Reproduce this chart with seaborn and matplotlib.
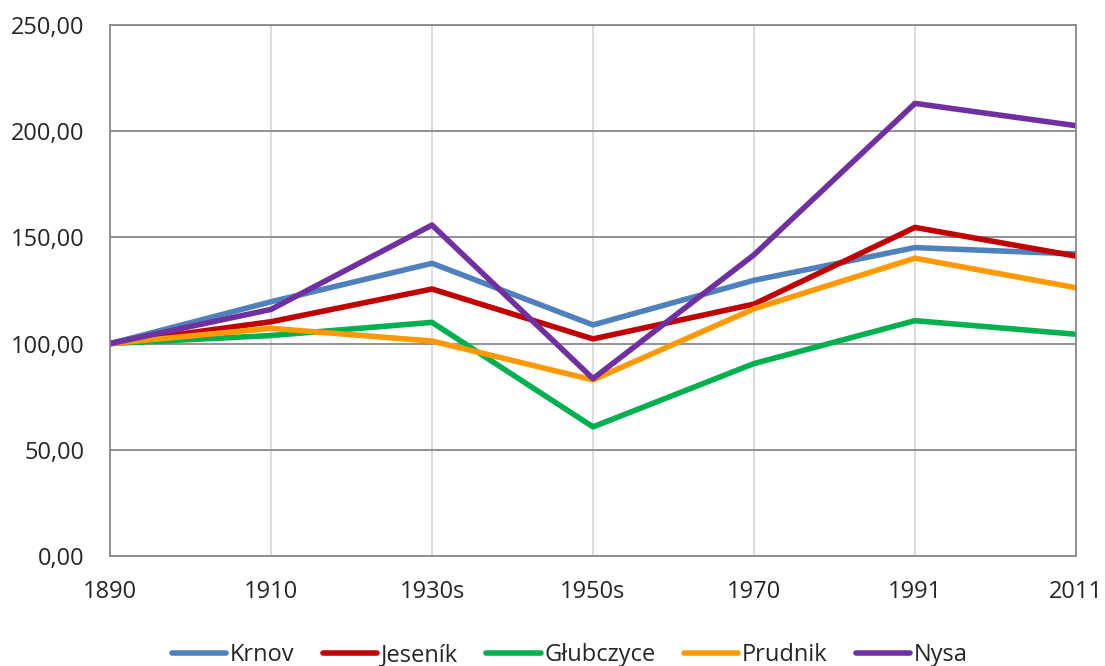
import pandas as pd
import matplotlib
matplotlib.use("Agg")
import matplotlib.pyplot as plt
import seaborn as sns
from matplotlib.ticker import FuncFormatter

# years / periods on the x axis
years = ["1890", "1910", "1930s", "1950s", "1970", "1991", "2011"]

# index values (1890 = 100)
krnov = [100, 119.7, 137.8, 108.8, 129.8, 145.2, 142.2]
jesenik = [100, 110.3, 125.7, 102.2, 118.6, 154.7, 141.2]
glubczyce = [100, 103.8, 110.0, 60.8, 90.6, 110.8, 104.4]
prudnik = [100, 107.2, 101.2, 82.9, 116.4, 140.2, 126.3]
nysa = [100, 116.1, 155.8, 83.5, 141.8, 213.1, 202.6]

series_names = ["Krnov", "Jeseník", "Głubczyce", "Prudnik", "Nysa"]
colors = ["#4F81BD", "#C00000", "#00B050", "#FF9900", "#7030A0"]

df = pd.DataFrame({
    "year": years * 5,
    "value": krnov + jesenik + glubczyce + prudnik + nysa,
    "town": [n for n in series_names for _ in years],
})
df["pos"] = df["year"].map({y: i for i, y in enumerate(years)})

sns.set_style("white")
plt.rcParams["font.family"] = ["Open Sans", "DejaVu Sans"]

fig = plt.figure(figsize=(11.05, 6.66), dpi=100)
ax = fig.add_axes([110 / 1105, 1 - 556 / 666, 966 / 1105, 531 / 666])

sns.lineplot(data=df, x="pos", y="value", hue="town", hue_order=series_names,
             palette=colors, linewidth=4.0, ax=ax, legend=True)

ax.set_xlim(0, len(years) - 1)
ax.set_ylim(0, 250)
ax.set_xticks(range(len(years)))
ax.set_xticklabels(years)
ax.set_yticks(range(0, 251, 50))
ax.yaxis.set_major_formatter(FuncFormatter(lambda v, p: f"{v:.2f}".replace(".", ",")))
ax.set_xlabel("")
ax.set_ylabel("")

# gridlines: dark horizontal, light vertical
ax.grid(axis="y", color="#898989", linewidth=1.3)
ax.grid(axis="x", color="#D9D9D9", linewidth=1.3)
ax.set_axisbelow(True)
for side in ["left", "right", "top", "bottom"]:
    ax.spines[side].set_color("#898989")
    ax.spines[side].set_linewidth(1.3)

ax.tick_params(axis="x", direction="out", length=6, color="#898989", width=1.3,
               labelsize=17, pad=11)
ax.tick_params(axis="y", length=0, labelsize=17, pad=18.5)

ax.legend(loc="center", bbox_to_anchor=(570 / 1105, 1 - 655 / 666),
          bbox_transform=fig.transFigure, ncol=5, frameon=False,
          fontsize=17, handlelength=2.3, handletextpad=0.16, columnspacing=1.2)

fig.savefig("out.png", dpi=100)
